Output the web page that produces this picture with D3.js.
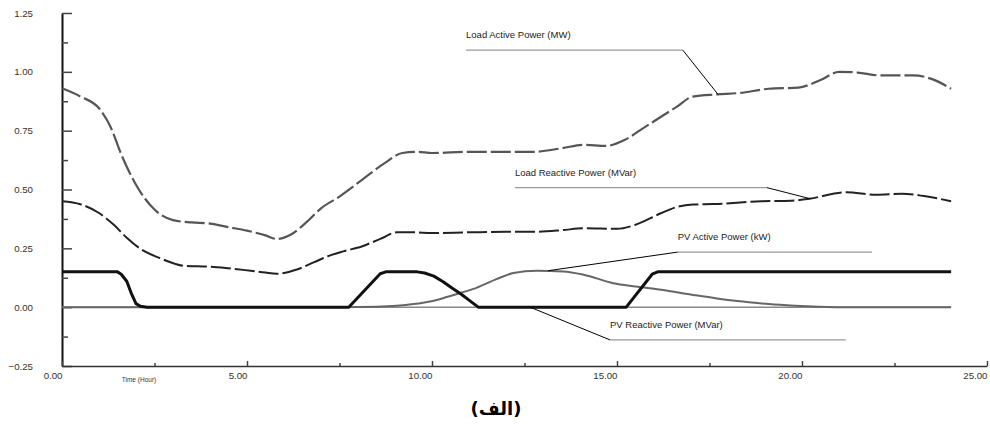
<!DOCTYPE html>
<html>
<head>
<meta charset="utf-8">
<script src="https://cdn.jsdelivr.net/npm/d3@7"></script>
<style>
  body { margin: 0; background: #fff; }
  text { font-family: Arial, "Liberation Sans", sans-serif; }
</style>
</head>
<body>
<div id="chart"></div>
<script>
// values: [hour, value]
const loadActive = [[0,0.93],[0.5,0.895],[1,0.845],[1.3,0.77],[1.6,0.65],[2,0.52],[2.5,0.415],[3,0.37],[3.5,0.36],[4,0.355],[4.5,0.34],[5,0.325],[5.5,0.305],[5.8,0.29],[6.2,0.31],[6.6,0.36],[7,0.42],[7.5,0.47],[8.1,0.54],[8.7,0.61],[9.2,0.655],[9.6,0.66],[10,0.655],[11,0.66],[12,0.66],[12.7,0.66],[13.5,0.675],[14.1,0.69],[14.7,0.685],[15.2,0.71],[15.7,0.76],[16.2,0.81],[16.6,0.85],[17.05,0.895],[17.7,0.904],[18.3,0.91],[19.1,0.928],[19.9,0.933],[20.5,0.965],[21,1.0],[21.5,0.997],[22.1,0.985],[23,0.985],[23.5,0.97],[24.03,0.928]];
const loadReactive = [[0,0.45],[0.5,0.437],[1,0.40],[1.4,0.35],[1.75,0.295],[2.1,0.25],[2.7,0.205],[3.3,0.176],[4,0.172],[4.5,0.165],[5.1,0.155],[5.5,0.147],[5.8,0.142],[6.35,0.16],[6.8,0.19],[7.25,0.22],[7.6,0.237],[8.1,0.258],[8.6,0.29],[9.05,0.318],[9.5,0.318],[10,0.315],[11,0.318],[12,0.32],[12.65,0.32],[13.5,0.327],[14.1,0.335],[15,0.333],[15.5,0.35],[16.2,0.40],[16.6,0.425],[17.05,0.436],[17.6,0.438],[18.9,0.45],[19.7,0.452],[20.2,0.461],[21.2,0.488],[22,0.478],[22.7,0.482],[23.3,0.472],[24.03,0.45]];
const pvActive = [[0,0.15],[1.5,0.15],[1.6,0.14],[1.75,0.11],[1.87,0.06],[2.0,0.015],[2.12,0.004],[2.3,0],[7.75,0],[8.6,0.142],[8.75,0.15],[9.6,0.15],[9.8,0.145],[10.05,0.132],[10.3,0.108],[10.55,0.08],[10.8,0.054],[11.0,0.03],[11.25,0],[15.25,0],[15.95,0.14],[16.1,0.15],[24.03,0.15]];
const pvBell = [[0,0],[7.5,0],[8.5,0.002],[9.05,0.006],[9.5,0.013],[9.95,0.024],[10.4,0.043],[10.8,0.062],[11.2,0.082],[11.74,0.119],[12.2,0.145],[12.83,0.155],[13.55,0.152],[14.1,0.138],[14.9,0.102],[15.5,0.088],[16.2,0.074],[17.06,0.052],[17.7,0.037],[18.4,0.024],[19.1,0.013],[19.8,0.006],[20.9,0],[24.03,0]];
const pvReactive = [[0,0],[24.03,0]];

const xTicks = [0, 5, 10, 15, 20, 25];
const xMinor = [2.5, 7.5, 12.5, 17.5, 22.5];
const yTicks = [-0.25, 0, 0.25, 0.5, 0.75, 1.0, 1.25];
const yMinor = [-0.125, 0.125, 0.375, 0.625, 0.875, 1.125];

// label, text start hour, underline end hour, underline value, target [hour, value]
const notes = [
  ["Load Active Power (MW)", 10.92, 16.78, 1.092, [17.73, 0.904]],
  ["Load Reactive Power (MVar)", 12.24, 19.05, 0.508, [20.22, 0.461]],
  ["PV Active Power (kW)", 16.64, 21.89, 0.234, [13.14, 0.155]],
  ["PV Reactive Power (MVar)", 14.81, 21.18, -0.139, [12.65, 0]]
];

const width = 990, height = 428;
const svg = d3.select("#chart").append("svg")
  .attr("width", width).attr("height", height);

const x = d3.scaleLinear().domain([0, 25]).range([62, 987]);
const y = d3.scaleLinear().domain([-0.25, 1.25]).range([366, 13]);

// axes
const yAxis = svg.append("g").attr("transform", "translate(62,0)")
  .call(d3.axisLeft(y).tickValues(yTicks).tickSize(-10).tickSizeOuter(0)
    .tickPadding(29).tickFormat(d3.format(".2f")));
svg.append("g").attr("transform", "translate(62,0)")
  .call(d3.axisLeft(y).tickValues(yMinor).tickSize(-6).tickSizeOuter(0).tickFormat(""))
  .call(g => g.select(".domain").remove());

const xAxis = svg.append("g").attr("transform", "translate(0,366)")
  .call(d3.axisBottom(x).tickValues(xTicks).tickSize(-5).tickSizeOuter(0)
    .tickPadding(6).tickFormat(d3.format(".2f")));
svg.append("g").attr("transform", "translate(0,366)")
  .call(d3.axisBottom(x).tickValues(xMinor).tickSize(-3).tickSizeOuter(0).tickFormat(""))
  .call(g => g.select(".domain").remove());

xAxis.selectAll("text").attr("text-anchor", "end");
svg.selectAll(".tick line").attr("stroke", "#444").attr("stroke-width", 1.5);
svg.selectAll(".tick text").attr("fill", "#333").style("font-size", "9.7px")
  .style("font-family", "Arial, 'Liberation Sans', sans-serif");
yAxis.select(".domain").attr("stroke", "#111").attr("stroke-width", 2);
xAxis.select(".domain").attr("stroke", "#333").attr("stroke-width", 1.5);

svg.append("text")
  .attr("x", 139).attr("y", 382)
  .attr("text-anchor", "middle")
  .style("font-size", "6.5px").attr("fill", "#333")
  .text("Time (Hour)");

// lines
const smooth = d3.line()
  .x(d => x(d[0])).y(d => y(d[1]))
  .curve(d3.curveMonotoneX);
const straight = d3.line()
  .x(d => x(d[0])).y(d => y(d[1]));

const series = [
  { data: pvReactive, gen: straight, stroke: "#888", width: 1.5, dash: null },
  { data: pvBell, gen: smooth, stroke: "#666", width: 2, dash: null },
  { data: loadActive, gen: smooth, stroke: "#555", width: 2.2, dash: "20,4" },
  { data: loadReactive, gen: smooth, stroke: "#222", width: 2, dash: "20,4" },
  { data: pvActive, gen: straight, stroke: "#111", width: 3, dash: null }
];

series.forEach(s => {
  svg.append("path")
    .datum(s.data)
    .attr("d", s.gen)
    .attr("fill", "none")
    .attr("stroke", s.stroke)
    .attr("stroke-width", s.width)
    .attr("stroke-linejoin", "round")
    .attr("stroke-dasharray", s.dash);
});

// annotations
notes.forEach(([label, t0, t1, v, target]) => {
  svg.append("text")
    .attr("x", x(t0)).attr("y", y(v) - 12)
    .style("font-size", "9.5px").attr("fill", "#222")
    .text(label);
  svg.append("line")
    .attr("x1", x(t0)).attr("x2", x(t1))
    .attr("y1", y(v)).attr("y2", y(v))
    .attr("stroke", "#999").attr("stroke-width", 1.2);
  const from = target[0] > t1 ? t1 : t0;
  svg.append("line")
    .attr("x1", x(from)).attr("y1", y(v))
    .attr("x2", x(target[0])).attr("y2", y(target[1]))
    .attr("stroke", "#000").attr("stroke-width", 1);
});

// caption
svg.append("text")
  .attr("x", 496).attr("y", 415)
  .attr("text-anchor", "middle")
  .style("font-family", "'DejaVu Sans', sans-serif")
  .style("font-weight", "bold")
  .style("font-size", "18px")
  .attr("fill", "#000")
  .text("(الف)");
</script>
</body>
</html>
